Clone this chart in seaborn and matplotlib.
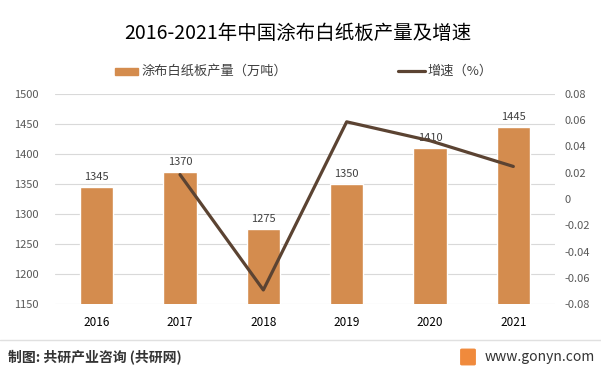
import matplotlib
matplotlib.use("Agg")
import matplotlib.pyplot as plt
import seaborn as sns
import pandas as pd
from matplotlib.patches import FancyBboxPatch

years = ["2016", "2017", "2018", "2019", "2020", "2021"]
output = [1345, 1370, 1275, 1350, 1410, 1445]
growth_years = ["2017", "2018", "2019", "2020", "2021"]
growth = [0.0186, -0.0693, 0.0588, 0.0444, 0.0248]

left_ticks = [1150, 1200, 1250, 1300, 1350, 1400, 1450, 1500]
right_ticks = [-0.08, -0.06, -0.04, -0.02, 0, 0.02, 0.04, 0.06, 0.08]
right_labels = ["-0.08", "-0.06", "-0.04", "-0.02", "0", "0.02", "0.04", "0.06", "0.08"]

sns.set_theme(style="white")
plt.rcParams['font.family'] = ['Noto Sans CJK SC', 'DejaVu Sans']

bar_color = "#D48C4E"
line_color = "#5B4332"

fig = plt.figure(figsize=(6.01, 3.73), dpi=100)
ax = fig.add_axes([55/601, 1-304/373, 500/601, 210/373])

df = pd.DataFrame({"year": years, "output": output})
sns.barplot(data=df, x="year", y="output", color=bar_color, width=0.4,
            saturation=1, ax=ax, zorder=2)
ax.set_ylim(1150, 1500)
ax.set_yticks(left_ticks)
ax.set_xlim(-0.5, 5.5)
ax.yaxis.grid(True, color="#D9D9D9", linewidth=0.8, zorder=0)
ax.set_axisbelow(True)
for s in ax.spines.values():
    s.set_visible(False)
ax.set_xlabel("")
ax.set_ylabel("")
ax.tick_params(axis='y', labelsize=8, colors="#595959", length=0, pad=12)
ax.tick_params(axis='x', labelsize=8.5, colors="#000000", length=0, pad=9)

for i, v in enumerate(output):
    ax.text(i, v + 8, str(v), ha="center", va="bottom", fontsize=8, color="#404040")

ax2 = ax.twinx()
gdf = pd.DataFrame({"pos": [years.index(y) for y in growth_years], "growth": growth})
sns.lineplot(data=gdf, x="pos", y="growth", color=line_color, linewidth=2.3, ax=ax2)
ax2.set_ylim(-0.08, 0.08)
ax2.set_yticks(right_ticks)
ax2.set_yticklabels(right_labels)
ax2.set_xlim(-0.5, 5.5)
ax2.set_ylabel("")
ax2.set_xlabel("")
for s in ax2.spines.values():
    s.set_visible(False)
ax2.tick_params(axis='y', labelsize=8, colors="#595959", length=0, pad=7)
ax2.grid(False)

# title
fig.text(298/601, 1-33/373, "2016-2021年中国涂布白纸板产量及增速", ha="center", va="center",
         fontsize=14, color="#000000")

# legend
fig.patches.append(plt.Rectangle((115/601, 1-75/373), 23/601, 7/373, transform=fig.transFigure,
                                 color=bar_color, figure=fig))
fig.text(142/601, 1-71/373, "涂布白纸板产量（万吨）", ha="left", va="center", fontsize=9.5, color="#404040")
fig.lines.append(plt.Line2D([398/601, 425/601], [1-71/373, 1-71/373], transform=fig.transFigure,
                            color=line_color, linewidth=2.3, figure=fig))
fig.text(427/601, 1-71/373, "增速（%）", ha="left", va="center", fontsize=9.5, color="#404040")

# footer
fig.lines.append(plt.Line2D([0, 1], [1-340/373, 1-340/373], transform=fig.transFigure,
                            color="#E0E0E0", linewidth=1, figure=fig))
fig.text(8/601, 1-357/373, "制图: 共研产业咨询 (共研网)", ha="left", va="center",
         fontsize=10, color="#333333", fontweight="bold")
fig.patches.append(FancyBboxPatch((462/601, 1-364/373), 12/601, 14/373,
                                  boxstyle="round,pad=0.002", transform=fig.transFigure,
                                  color="#F08A3C", figure=fig))
fig.text(485/601, 1-357/373, "www.gonyn.com", ha="left", va="center",
         fontsize=10, color="#333333")

fig.savefig("out.png", dpi=100)
